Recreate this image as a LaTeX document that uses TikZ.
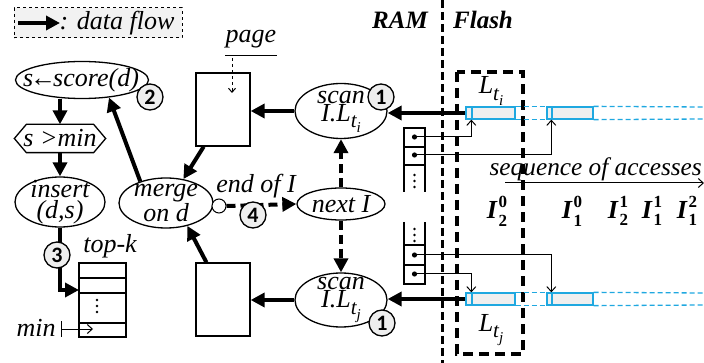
\documentclass[tikz,border=0pt]{standalone}
\usepackage{fontspec}
\setmainfont{Liberation Serif}
\newfontfamily\numfont{Carlito}
\usetikzlibrary{arrows.meta,shapes.geometric,calc}
\definecolor{numgray}{HTML}{EEEEEE}
\definecolor{leggray}{HTML}{F2F2F2}
\definecolor{barblue}{HTML}{1FA8E0}
\definecolor{barfill}{HTML}{EFEFEF}
\newcommand\Lsub[1]{L\raisebox{-0.25em}{\fontsize{21}{21}\selectfont t\raisebox{-0.25em}{\fontsize{15}{15}\selectfont #1}}}
\newcommand\Isp[2]{\textbf{\textit{I}\kern1pt\rlap{\raisebox{0.42em}{\fontsize{17}{17}\selectfont #2}}\raisebox{-0.3em}{\fontsize{17}{17}\selectfont #1}}}
\begin{document}
\begin{tikzpicture}[x=1pt,y=-1pt,line width=1.3pt,
  txt/.style={inner sep=0pt, font=\fontsize{26}{21}\selectfont\itshape, align=center},
  btxt/.style={inner sep=0pt, font=\fontsize{25}{21}\selectfont\bfseries\itshape},
  ell/.style={draw, ellipse, inner sep=0pt},
  box/.style={draw, rectangle, inner sep=0pt},
  flow/.style={line width=4pt, -{Triangle[length=14pt,width=14pt]}},
  dflow/.style={flow, dash pattern=on 9pt off 5pt},
  ptr/.style={line width=1pt, -{Straight Barb[length=5pt,width=9pt]}},
  num/.style={draw, circle, fill=numgray, minimum size=26pt, inner sep=0pt, line width=1.3pt, font=\numfont\bfseries\fontsize{22}{22}\selectfont},
  bar/.style={draw=barblue, fill=barfill, inner sep=0pt, minimum height=12pt, line width=1.3pt},
  bdash/.style={draw=barblue, line width=1.3pt, dash pattern=on 5pt off 3pt},
  stk/.style={line width=1.3pt}]
\useasboundingbox (0,0) rectangle (704,363);

% legend
\node[draw, dashed, fill=leggray, minimum width=168pt, minimum height=30pt, inner sep=0pt, line width=1pt] (legend) at (98,23) {};
\coordinate (lga) at (18,23);
\coordinate (lgb) at (60,23);
\draw[flow] (lga) -- (lgb);
\node[txt, anchor=west] (legtxt) at (59,23) {: data flow};

% RAM / Flash
\node[btxt] (ram) at (400,20) {RAM};
\node[btxt] (flash) at (483,20) {Flash};
\draw[line width=3pt, dash pattern=on 8pt off 4pt] (442,0) -- (442,363);
\draw[line width=4pt, dash pattern=on 10pt off 6pt] (457,72) rectangle (523,354);

% left column
\node[ell, minimum width=133pt, minimum height=37pt] (score) at (82,80) {};
\node[txt] at (81,80) {s\kern-3pt←\kern-3pt score(d)};
\node[minimum width=90pt, minimum height=27pt, inner sep=0pt] (hex) at (60,138.5) {};
\draw ($(hex.west)$) -- ($(hex.north west)+(12,0)$) -- ($(hex.north east)+(-12,0)$) -- (hex.east) -- ($(hex.south east)+(-12,0)$) -- ($(hex.south west)+(12,0)$) -- cycle;
\node[txt] at (hex) {s >min};
\node[ell, minimum width=90pt, minimum height=50pt] (ins) at (60,202) {};
\node[txt] at (ins) {insert\\(d,s)};

% top-k
\node[txt] (topktxt) at (110,246) {top-k};
\node[box, minimum width=47pt, minimum height=74pt] (topk) at (102.5,300) {};
\draw (79,278) -- (126,278);
\draw[line width=2pt] (79,293) -- (126,293);
\draw (79,323) -- (126,323);
\foreach \yy in {300,306,312} \fill (97,\yy) circle (1.4);
\node[txt] (mintxt) at (36,328) {min};
\draw[line width=1pt] (61,321) -- (61,337);
\coordinate (mina) at (61,329);
\coordinate (minb) at (93,329);
\draw[ptr] (mina) -- (minb);
\coordinate (tkin) at (79,290);

% merge and rects
\node[ell, minimum width=94pt, minimum height=50pt] (merge) at (166,203) {};
\node[txt] at (merge) {merge\\on d};
\node[draw, circle, minimum size=14pt, inner sep=0pt, fill=white, line width=1pt] (eoi) at (219,206) {};
\node[txt] (eoitxt) at (256,186) {end of I};
\node[box, minimum width=54pt, minimum height=73pt] (rtop) at (223,109.5) {};
\node[box, minimum width=54pt, minimum height=73pt] (rbot) at (223,299.5) {};
\node[txt] (page) at (251,39) {page};
\draw[line width=1pt] (225,56) -- (277,56);
\coordinate (pga) at (232,58);
\coordinate (pgb) at (232,93);
\draw[line width=1pt, dashed, -{Straight Barb[length=4pt,width=7pt]}] (pga) -- (pgb);

% scan and next
\node[ell, minimum width=92pt, minimum height=55pt] (scanI) at (341,111) {};
\node[txt, font=\fontsize{26}{18}\selectfont\itshape] at (341,112) {scan\\I.\Lsub{i}};
\node[ell, minimum width=92pt, minimum height=54pt] (scanJ) at (341,300) {};
\node[txt, font=\fontsize{26}{18}\selectfont\itshape] at (341,300) {scan\\I.\Lsub{j}};
\node[ell, minimum width=88pt, minimum height=32pt] (next) at (341,204) {};
\node[txt] at (next) {next I};

% bars
\node[bar, minimum width=49pt] (barI) at (490.5,113) {};
\draw[barblue, line width=1.3pt] (472,107) -- (472,119);
\node[bar, minimum width=46pt] (barI2) at (570,113) {};
\draw[barblue, line width=1.3pt] (552,107) -- (552,119);
\draw[bdash] (barI.north east) -- (barI2.north west);
\draw[bdash] (barI.south east) -- (barI2.south west);
\draw[bdash] (barI2.north east) -- (704,107);
\draw[bdash] (barI2.south east) -- (704,119);

\node[bar, minimum width=49pt] (barJ) at (490.5,299) {};
\draw[barblue, line width=1.3pt] (472,293) -- (472,305);
\node[bar, minimum width=46pt] (barJ2) at (570,299) {};
\draw[barblue, line width=1.3pt] (552,293) -- (552,305);
\draw[bdash] (barJ.north east) -- (barJ2.north west);
\draw[bdash] (barJ.south east) -- (barJ2.south west);
\draw[bdash] (barJ2.north east) -- (704,293);
\draw[bdash] (barJ2.south east) -- (704,305);

\node[txt] (lti) at (491,91) {\Lsub{i}};
\node[txt] (ltj) at (491,330) {\Lsub{j}};

% pointer stacks
\draw[stk] (404,192) -- (404,128) -- (425,128) -- (425,192);
\draw[stk] (404,147) -- (425,147);
\draw[stk] (404,165) -- (425,165);
\foreach \yy in {175,181,187} \fill (414.5,\yy) circle (1.4);
\draw[stk] (404,222) -- (404,284) -- (425,284) -- (425,222);
\draw[stk] (404,245) -- (425,245);
\draw[stk] (404,265) -- (425,265);
\foreach \yy in {229,235,241} \fill (414.5,\yy) circle (1.4);
\coordinate (p1) at (414.5,137);
\coordinate (p2) at (414.5,155);
\coordinate (p3) at (414.5,255);
\coordinate (p4) at (414.5,274);
\foreach \pp in {p1,p2,p3,p4} \fill (\pp) circle (2.6);
\draw[ptr] (p1) -| ($(barI.south west)+(6,0)$);
\draw[ptr] (p2) -| ($(barI2.south west)+(5,0)$);
\draw[ptr] (p3) -| ($(barJ2.north west)+(5,0)$);
\draw[ptr] (p4) -| ($(barJ.north west)+(6,0)$);

% sequence of accesses
\node[txt, anchor=west, font=\fontsize{25.3}{21}\selectfont\itshape] (seq) at (489,169) {sequence of accesses};
\coordinate (sqa) at (505,183);
\coordinate (sqb) at (704,183);
\draw[ptr] (sqa) -- (sqb);
\node[inner sep=0pt, font=\fontsize{26}{26}\selectfont] (i20) at (497,211) {\Isp{2}{0}};
\node[inner sep=0pt, font=\fontsize{26}{26}\selectfont] (i10) at (572,211) {\Isp{1}{0}};
\node[inner sep=0pt, font=\fontsize{26}{26}\selectfont] (i21) at (618,211) {\Isp{2}{1}};
\node[inner sep=0pt, font=\fontsize{26}{26}\selectfont] (i11) at (652,211) {\Isp{1}{1}};
\node[inner sep=0pt, font=\fontsize{26}{26}\selectfont] (i12) at (687,211) {\Isp{1}{2}};

% flows
\draw[flow] (barI.west) -- (barI.west -| scanI.east);
\draw[flow] (barJ.west) -- (barJ.west -| scanJ.east);
\draw[flow] (scanI.west) -- (scanI.west -| rtop.east);
\draw[flow] (scanJ.west) -- (scanJ.west -| rbot.east);
\draw[flow] ($(rtop.south west)!0.15!(rtop.south east)$) -- (merge.54);
\draw[flow] ($(rbot.north west)!0.2!(rbot.north east)$) -- (merge.-47);
\draw[flow] (merge.140) -- (score.-33);
\draw[flow] (hex.north |- score.south) -- (hex.north);
\draw[flow] (hex.south) -- (ins.north);
\draw[flow] (ins.south) |- (tkin);
\draw[dflow] (eoi.east) -- (next.west);
\draw[dflow] (next.north) -- (scanI.south);
\draw[dflow] (next.south) -- (scanJ.north);

% numbers
\node[num] (n2) at (150,97) {2};
\node[num] (n3) at (57,255) {3};
\node[num] (n4) at (253,215) {4};
\node[num] (n1a) at (381,97) {1};
\node[num] (n1b) at (382,323) {1};
\end{tikzpicture}
\end{document}
